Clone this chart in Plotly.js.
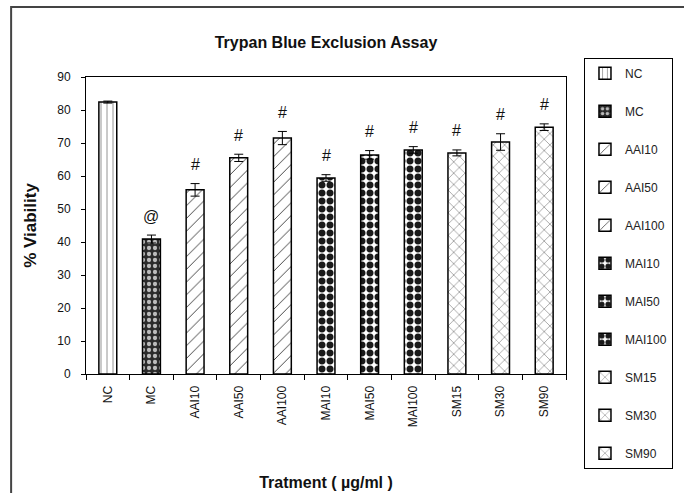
<!DOCTYPE html>
<html>
<head>
<meta charset="utf-8">
<script src="https://cdn.plot.ly/plotly-3.0.1.min.js"></script>
<style>html,body{margin:0;padding:0;background:#fff;}#chart{width:684px;height:493px;}</style>
</head>
<body>
<div id="chart"></div>
<script>
// Data
var categories = ["NC", "MC", "AAI10", "AAI50", "AAI100", "MAI10", "MAI50", "MAI100", "SM15", "SM30", "SM90"];
var viability = [82.4, 40.9, 55.8, 65.5, 71.5, 59.4, 66.4, 67.9, 67.0, 70.3, 74.8];
var errors = [0.3, 1.2, 1.9, 1.1, 2.0, 1.0, 1.3, 1.0, 0.9, 2.5, 1.0];
var marks = ["", "@", "#", "#", "#", "#", "#", "#", "#", "#", "#"];

// Styles by group
function patternFor(name) {
  if (name === "NC") return {shape: "|", fgcolor: "#888", bgcolor: "#fff", size: 6, solidity: 0.15, fillmode: "replace"};
  if (name === "MC") return {shape: ".", fgcolor: "#bbb", bgcolor: "#2a2a2a", size: 6, solidity: 0.4, fillmode: "replace"};
  if (name.indexOf("AAI") === 0) return {shape: "/", fgcolor: "#333", bgcolor: "#fff", size: 9, solidity: 0.1, fillmode: "replace"};
  if (name.indexOf("MAI") === 0) return {shape: ".", fgcolor: "#1a1a1a", bgcolor: "#fff", size: 8, solidity: 0.6, fillmode: "replace"};
  return {shape: "x", fgcolor: "#333", bgcolor: "#fff", size: 8, solidity: 0.1, fillmode: "replace"};
}

var FONT = "Arial, 'Liberation Sans', sans-serif";

var traces = categories.map(function (c, i) {
  return {
    type: "bar",
    name: c,
    legendgroup: c,
    x: [c],
    y: [viability[i]],
    width: 0.41,
    marker: {color: "#fff", line: {color: "#000", width: 1.5}, pattern: patternFor(c)},
    error_y: {type: "data", array: [errors[i]], visible: true, color: "#000", thickness: 1, width: 4.5},
    hoverinfo: "x+y"
  };
});

var annotations = [];
categories.forEach(function (c, i) {
  if (!marks[i]) return;
  annotations.push({
    x: c, y: viability[i] + errors[i], xref: "x", yref: "y",
    text: marks[i], showarrow: false, yanchor: "middle", yshift: 19,
    font: {family: FONT, size: 16, color: "#111"}
  });
});

var layout = {
  width: 684, height: 493,
  margin: {l: 86, r: 117, t: 77, b: 119, pad: 0},
  paper_bgcolor: "#fff", plot_bgcolor: "#fff",
  barmode: "overlay",
  showlegend: true,
  font: {family: FONT, size: 12, color: "#111"},
  title: {
    text: "<b>Trypan Blue Exclusion Assay</b>",
    x: 0.5, xref: "paper", xanchor: "center",
    y: 0.915, yref: "container", yanchor: "middle",
    font: {family: FONT, size: 16, color: "#111"}
  },
  xaxis: {
    type: "category",
    categoryorder: "array", categoryarray: categories,
    tickangle: -90,
    ticks: "outside", ticklen: 5, tickcolor: "#000", tickson: "boundaries",
    ticklabelstandoff: 6,
    showline: true, linecolor: "#000", linewidth: 1, mirror: true,
    showgrid: false, zeroline: false,
    tickfont: {family: FONT, size: 12, color: "#111"},
    title: {text: "<b>Tratment ( µg/ml )</b>", standoff: 50, font: {family: FONT, size: 16, color: "#111"}}
  },
  yaxis: {
    range: [0, 90], dtick: 10, tick0: 0,
    ticks: "outside", ticklen: 4, tickcolor: "#000",
    ticklabelstandoff: 8,
    showline: true, linecolor: "#000", linewidth: 1, mirror: true,
    showgrid: false, zeroline: false,
    tickfont: {family: FONT, size: 12, color: "#111"},
    title: {text: "<b>% Viability</b>", standoff: 16, font: {family: FONT, size: 17, color: "#111"}}
  },
  legend: {
    x: 1.0353, xanchor: "left", xref: "paper",
    y: 1.065, yanchor: "top", yref: "paper",
    bgcolor: "#fff", bordercolor: "#000", borderwidth: 1,
    tracegroupgap: 19, traceorder: "grouped",
    itemwidth: 30, maxheight: 480,
    font: {family: FONT, size: 12, color: "#222"}
  },
  annotations: annotations,
  shapes: [{
    type: "rect", xref: "paper", yref: "paper",
    x0: -0.156, x1: 1.4, y0: -0.6, y1: 1.2357,
    line: {color: "#444", width: 2}, fillcolor: "rgba(0,0,0,0)", layer: "below"
  }]
};

Plotly.newPlot("chart", traces, layout, {displayModeBar: false, staticPlot: true});
</script>
</body>
</html>
